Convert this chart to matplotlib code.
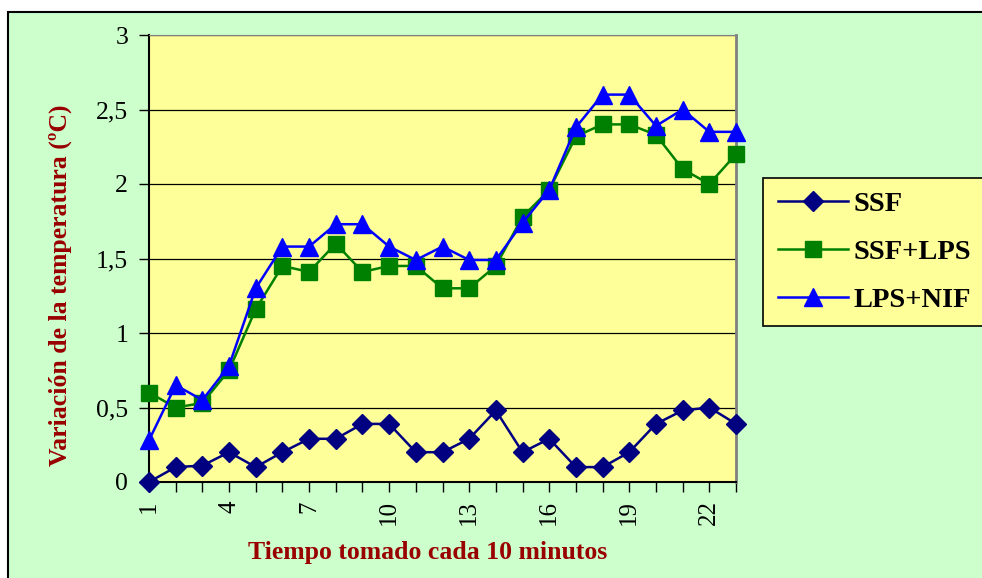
import numpy as np
import matplotlib
matplotlib.use("Agg")
from matplotlib import pyplot as plt
from matplotlib.patches import Rectangle

tiempo = np.arange(1, 24)
ssf = [0, 0.1, 0.11, 0.2, 0.1, 0.2, 0.29, 0.29, 0.39, 0.39, 0.2, 0.2,
       0.29, 0.48, 0.2, 0.29, 0.1, 0.1, 0.2, 0.39, 0.48, 0.5, 0.39]
ssf_lps = [0.6, 0.5, 0.53, 0.75, 1.16, 1.45, 1.41, 1.6, 1.41, 1.45, 1.45, 1.3,
           1.3, 1.45, 1.78, 1.96, 2.32, 2.4, 2.4, 2.33, 2.1, 2.0, 2.2]
lps_nif = [0.28, 0.65, 0.55, 0.78, 1.3, 1.58, 1.58, 1.73, 1.73, 1.58, 1.49, 1.58,
           1.49, 1.49, 1.74, 1.96, 2.38, 2.6, 2.6, 2.39, 2.5, 2.35, 2.35]
y_ticks = [0, 0.5, 1, 1.5, 2, 2.5, 3]
y_labels = ["0", "0,5", "1", "1,5", "2", "2,5", "3"]
x_labels = [1, 4, 7, 10, 13, 16, 19, 22]

W, H = 982, 578
serif = "Liberation Serif"
red = "#990000"

fig = plt.figure(figsize=(W / 100, H / 100), dpi=100)
fig.patch.set_facecolor("white")

# outer chart area
fig.patches.append(Rectangle((8 / W, -0.05), 1.0, 1 - 12 / H + 0.05, transform=fig.transFigure,
                             facecolor="#CCFFCC", edgecolor="black", lw=1.5, zorder=0))
# legend box
fig.patches.append(Rectangle((763 / W, 1 - 326 / H), 0.3, (326 - 178) / H, transform=fig.transFigure,
                             facecolor="#FFFF99", edgecolor="black", lw=1.2, zorder=1))

ax = fig.add_axes([149 / W, 1 - 482 / H, (736 - 149) / W, (482 - 35) / H])
ax.set_zorder(2)
ax.set_facecolor("#FFFF99")

ax.plot(tiempo, ssf, color="#000080", lw=1.8, marker="D", ms=10, label="SSF", clip_on=False, zorder=3)
ax.plot(tiempo, ssf_lps, color="#008000", lw=1.8, marker="s", ms=11, label="SSF+LPS", clip_on=False, zorder=4)
ax.plot(tiempo, lps_nif, color="#0000FF", lw=1.8, marker="^", ms=13, label="LPS+NIF", clip_on=False, zorder=5)

ax.set_xlim(1, 23)
ax.set_ylim(0, 3)
ax.set_yticks(y_ticks)
ax.set_yticklabels(y_labels, fontfamily=serif, fontsize=18.5)
ax.set_xticks(tiempo, minor=True)
ax.set_xticks(x_labels)
ax.set_xticklabels([str(v) for v in x_labels], rotation=90, fontfamily=serif, fontsize=18)
ax.tick_params(axis="x", which="both", direction="out", length=7, width=1, color="black", pad=6)
ax.tick_params(axis="y", direction="out", length=7, width=1, color="black", pad=8)
ax.grid(True, axis="y", color="black", lw=0.9)
ax.set_axisbelow(True)

ax.spines["left"].set_color("black")
ax.spines["bottom"].set_color("black")
ax.spines["left"].set_linewidth(1.5)
ax.spines["bottom"].set_linewidth(1.5)
ax.spines["top"].set_color("#808080")
ax.spines["right"].set_color("#808080")
ax.spines["right"].set_linewidth(2)

fig.text(60 / W, 1 - 285 / H, "Variación de la temperatura (ºC)", rotation=90, ha="center", va="center",
         fontfamily=serif, fontweight="bold", fontsize=18.5, color=red)
fig.text(428 / W, 1 - 553 / H, "Tiempo tomado cada 10 minutos", ha="center", va="center",
         fontfamily=serif, fontweight="bold", fontsize=18.5, color=red)

leg = ax.legend(loc="upper left", bbox_to_anchor=(778 / W, 1 - 191 / H), bbox_transform=fig.transFigure,
                frameon=False, prop={"family": serif, "weight": "bold", "size": 20.5},
                handlelength=2.45, handletextpad=0.2, labelspacing=0.78, borderaxespad=0, borderpad=0)

fig.savefig("out.png", dpi=100)
